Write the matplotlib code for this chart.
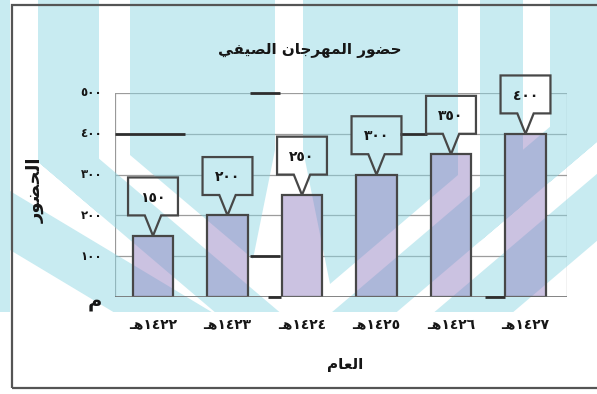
import matplotlib
matplotlib.use("Agg")
import matplotlib.pyplot as plt
from matplotlib.patches import Polygon, Rectangle, PathPatch
from matplotlib.path import Path

# ---------------------------------------------------------------- data
years = ["١٤٢٢هـ", "١٤٢٣هـ", "١٤٢٤هـ", "١٤٢٥هـ", "١٤٢٦هـ", "١٤٢٧هـ"]
attendance = [150, 200, 250, 300, 350, 400]
y_ticks = [0, 100, 200, 300, 400, 500]
title_text = "حضور المهرجان الصيفي"
y_title = "الحضور"
x_title = "العام"
zero_label = "م"

# ---------------------------------------------------------------- arabic shaping
# (isolated, final, initial, medial) presentation forms
FORMS = {
    "ا": ("\uFE8D", "\uFE8E", None, None),
    "ل": ("\uFEDD", "\uFEDE", "\uFEDF", "\uFEE0"),
    "ح": ("\uFEA1", "\uFEA2", "\uFEA3", "\uFEA4"),
    "ض": ("\uFEBD", "\uFEBE", "\uFEBF", "\uFEC0"),
    "و": ("\uFEED", "\uFEEE", None, None),
    "ر": ("\uFEAD", "\uFEAE", None, None),
    "م": ("\uFEE1", "\uFEE2", "\uFEE3", "\uFEE4"),
    "ه": ("\uFEE9", "\uFEEA", "\uFEEB", "\uFEEC"),
    "ج": ("\uFE9D", "\uFE9E", "\uFE9F", "\uFEA0"),
    "ن": ("\uFEE5", "\uFEE6", "\uFEE7", "\uFEE8"),
    "ص": ("\uFEB9", "\uFEBA", "\uFEBB", "\uFEBC"),
    "ي": ("\uFEF1", "\uFEF2", "\uFEF3", "\uFEF4"),
    "ف": ("\uFED1", "\uFED2", "\uFED3", "\uFED4"),
    "ع": ("\uFEC9", "\uFECA", "\uFECB", "\uFECC"),
}
TATWEEL = "\u0640"
DIGITS = set("0123456789\u0660\u0661\u0662\u0663\u0664\u0665\u0666\u0667\u0668\u0669")


def joins_forward(ch):
    return ch == TATWEEL or (ch in FORMS and FORMS[ch][2] is not None)


def shape(text):
    out = []
    for i, ch in enumerate(text):
        if ch not in FORMS:
            out.append(ch)
            continue
        prev = text[i - 1] if i > 0 else None
        nxt = text[i + 1] if i + 1 < len(text) else None
        jp = prev is not None and joins_forward(prev)
        jn = FORMS[ch][2] is not None and nxt is not None and (nxt == TATWEEL or nxt in FORMS)
        iso, fin, ini, med = FORMS[ch]
        out.append(med if (jp and jn) else fin if jp else ini if jn else iso)
    # visual order: right-to-left, digit runs stay left-to-right
    tokens, run = [], ""
    for ch in out:
        if ch in DIGITS:
            run += ch
        else:
            if run:
                tokens.append(run)
                run = ""
            tokens.append(ch)
    if run:
        tokens.append(run)
    return "".join(reversed(tokens))


def arabic_digits(n):
    return str(n).translate(str.maketrans("0123456789", "٠١٢٣٤٥٦٧٨٩"))


# ---------------------------------------------------------------- figure
W, H = 597, 394
fig = plt.figure(figsize=(W / 100, H / 100), dpi=100)
fig.patch.set_facecolor("white")

ax_l, ax_r, ax_t, ax_b = 115, 567, 93, 297
ax = fig.add_axes([ax_l / W, 1 - ax_b / H, (ax_r - ax_l) / W, (ax_b - ax_t) / H])
ax.set_facecolor("none")
ax.set_ylim(0, 500)
ax.set_xlim(-0.51, len(years) - 1 + 0.557)
for s in ax.spines.values():
    s.set_visible(False)

FONT = "DejaVu Sans"
INK = "#161616"
EDGE = "#474747"

x = list(range(len(years)))

# grid
for v in y_ticks[1:]:
    ax.axhline(v, color="#9c9c9c", lw=0.9, zorder=1)
ax.axhline(0, color="#6e6e6e", lw=1.2, zorder=5)
ax.axvline(ax.get_xlim()[0], color="#999999", lw=0.9, zorder=1)
ax.axvline(ax.get_xlim()[1], color="#999999", lw=0.9, zorder=1)

# heavier ink on parts of the ruling
heavy = [(400, -0.51, 0.43), (400, 3.32, 3.68), (500, 1.30, 1.70),
         (100, 1.30, 1.70), (0, 1.55, 1.72), (0, 4.45, 4.73)]
for lvl, xa, xb in heavy:
    ax.plot([xa, xb], [lvl, lvl], color="#2e2e2e", lw=2.0, zorder=5,
            solid_capstyle="butt", clip_on=False)

bar_w = 0.55
# opaque base so grid lines stay hidden behind the bars
ax.bar(x, attendance, width=bar_w, color="white", zorder=2)
ax.bar(x, attendance, width=bar_w, color=(0.55, 0.47, 0.74, 0.45),
       edgecolor=EDGE, linewidth=1.6, zorder=4)

# callout boxes with a pointer down to each bar
box_w, gap, box_h, tip = 0.67, 50, 93, 0.11
for xi, v in zip(x, attendance):
    b, t = v + gap, v + gap + box_h
    l, r = xi - box_w / 2, xi + box_w / 2
    pts = [(l, b), (xi - tip, b), (xi, v), (xi + tip, b), (r, b), (r, t), (l, t)]
    ax.add_patch(Polygon(pts, closed=True, facecolor="white", edgecolor="none",
                         zorder=2, clip_on=False))
    ax.add_patch(Polygon(pts, closed=True, facecolor="none", edgecolor=EDGE,
                         lw=1.6, zorder=5, clip_on=False))
    ax.text(xi, b + box_h * 0.47, arabic_digits(v), ha="center", va="center",
            fontsize=10, fontweight="bold", color=INK, family=FONT, zorder=6)

# ticks
ax.set_xticks([])
ax.set_yticks([])
for v in y_ticks[1:]:
    ax.text(-0.68, v, arabic_digits(v), ha="right", va="center", fontsize=8.5,
            fontweight="bold", color=INK, family=FONT, zorder=6)
ax.text(-0.68, -10, shape(zero_label), ha="right", va="center", fontsize=14,
        fontweight="bold", color=INK, family=FONT, zorder=6)
for xi, lab in zip(x, years):
    ax.text(xi, -68, shape(lab), ha="center", va="center", fontsize=10,
            fontweight="bold", color=INK, family=FONT, zorder=6)

fig.text(310 / W, 1 - 50 / H, shape(title_text), ha="center", va="center",
         fontsize=11, fontweight="bold", color=INK, family=FONT, zorder=6)
fig.text(345 / W, 1 - 365 / H, shape(x_title), ha="center", va="center",
         fontsize=11, fontweight="bold", color=INK, family=FONT, zorder=6)
fig.text(36 / W, 1 - 190 / H, shape(y_title), ha="center", va="center",
         rotation=90, fontsize=13, fontweight="bold", color=INK, family=FONT, zorder=6)

# outer frame
fig.patches.append(Rectangle((12 / W, 1 - 388 / H), (W + 10 - 12) / W, (388 - 5) / H,
                             transform=fig.transFigure, fill=False,
                             edgecolor="#555555", lw=1.6, zorder=6))


# ---------------------------------------------------------------- background ribbons
# pixel coordinates with y pointing down
def Lq(px, k):  # ribbons falling to the right
    return 155 + (px - 130) * 0.85 + k


def Rq(px, k):  # ribbons falling to the left
    return 175 + (458 - px) * 0.85 + k


def band(f, k0, k1, xa, xb):
    return [(xa, f(xa, k0)), (xb, f(xb, k0)), (xb, f(xb, k1)), (xa, f(xa, k1))]


ribbons = [
    [(-5, -5), (10, -5), (10, 400), (-5, 400)],
    [(38, -5), (99, -5), (99, Lq(99, 85)), (38, Lq(38, 85))],
    band(Lq, 30, 85, 38, 320),
    [(0, 185), (320, 185 + 0.6 * 320), (320, 244 + 0.6 * 320), (0, 244)],
    [(130, -5), (275, -5), (275, 150), (253, 259), (130, 155)],
    [(303, -5), (458, -5), (458, 175), (330, 284), (303, 150)],
    band(Rq, 30, 85, 250, 610),
    band(Rq, 117, 184, 300, 610),
    [(480, -5), (523, -5), (523, Rq(523, 85)), (480, Rq(480, 85))],
    [(550, -5), (610, -5), (610, Rq(610, 85)), (550, Rq(550, 85))],
]
verts, codes = [], []
for poly in ribbons:
    # consistent orientation so overlapping parts are filled once
    n = len(poly)
    area = sum(poly[i][0] * poly[(i + 1) % n][1] - poly[(i + 1) % n][0] * poly[i][1]
               for i in range(n))
    if area < 0:
        poly = poly[::-1]
    for j, (px, py) in enumerate(poly):
        verts.append((px / W, 1 - py / H))
        codes.append(Path.MOVETO if j == 0 else Path.LINETO)
    verts.append((0, 0))
    codes.append(Path.CLOSEPOLY)
wm = PathPatch(Path(verts, codes), transform=fig.transFigure,
               facecolor=(0.55, 0.84, 0.89, 0.48), edgecolor="none",
               zorder=3, clip_on=True)
ax.add_patch(wm)
clip = Rectangle((0, 1 - 312 / H), 1, 312 / H, transform=fig.transFigure)
wm.set_clip_path(clip)

fig.savefig("out.png", dpi=100)
